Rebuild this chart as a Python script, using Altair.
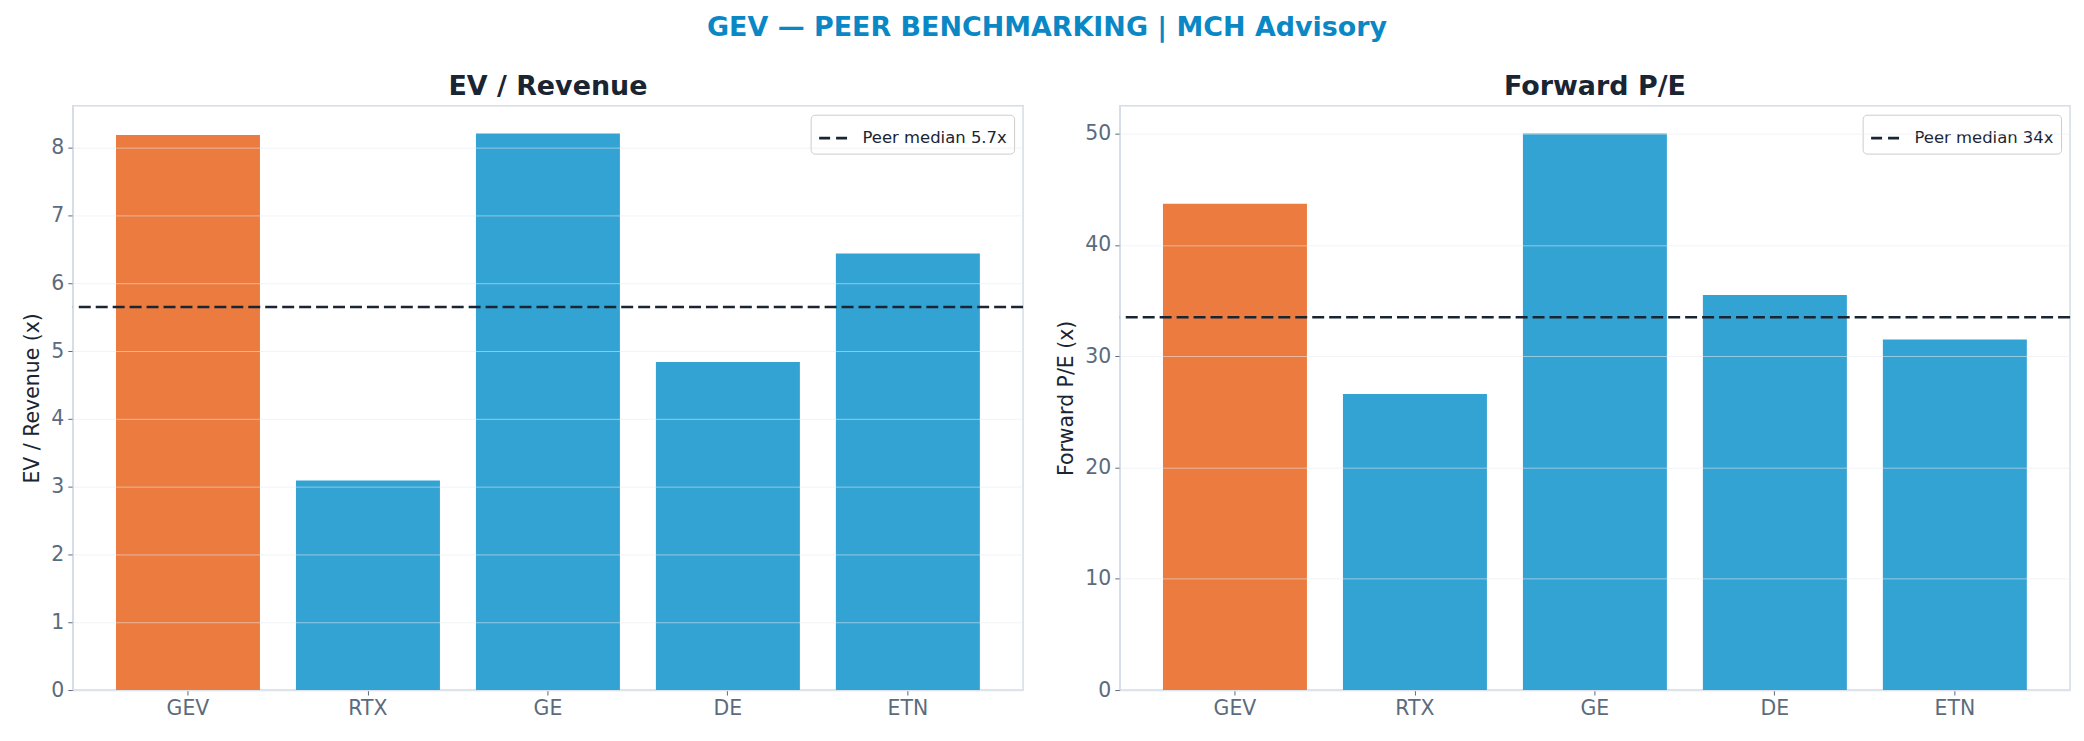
import altair as alt
import pandas as pd

tickers = ["GEV", "RTX", "GE", "DE", "ETN"]
bar_colors = ["#EC7B3F", "#33A3D4", "#33A3D4", "#33A3D4", "#33A3D4"]
ev_revenue = [8.19, 3.09, 8.21, 4.84, 6.44]
forward_pe = [43.7, 26.6, 50.0, 35.5, 31.5]
ev_median = [5.65]
pe_median = [33.5]
ev_label = ["Peer median 5.7x"]
pe_label = ["Peer median 34x"]
ev_ticks = [0, 1, 2, 3, 4, 5, 6, 7, 8]
pe_ticks = [0, 10, 20, 30, 40, 50]

FONT = "DejaVu Sans"
DARK = "#1a2533"
GRAYTXT = "#5b6b7d"


def panel(values, median, label, title, ytitle, domain, ticks):
    df = pd.DataFrame({"ticker": tickers, "value": values, "color": bar_colors})
    bars = alt.Chart(df).mark_bar().encode(
        x=alt.X(
            "ticker:N",
            sort=tickers,
            scale=alt.Scale(paddingInner=0.2, paddingOuter=0.24),
            axis=alt.Axis(title=None, labelAngle=0, grid=False),
        ),
        y=alt.Y(
            "value:Q",
            scale=alt.Scale(domain=domain, nice=False, zero=True),
            axis=alt.Axis(values=ticks, format="d", title=ytitle, grid=True, zindex=1),
        ),
        fill=alt.Fill("color:N", scale=None),
    )
    mdf = pd.DataFrame({"median": median, "label": label})
    rule = alt.Chart(mdf).mark_rule(strokeDash=[12, 5], strokeWidth=2.4).encode(
        y="median:Q",
        stroke=alt.Stroke(
            "label:N",
            scale=alt.Scale(range=[DARK]),
            legend=alt.Legend(
                title=None,
                orient="top-right",
                offset=9,
                symbolType="stroke",
                symbolDash=[11, 6],
                symbolStrokeWidth=2.6,
                symbolSize=900,
                labelFontSize=16.5,
                labelFont=FONT,
                labelColor=DARK,
                labelOffset=12,
                strokeColor="#cccccc",
                fillColor="white",
                cornerRadius=4,
                padding=7,
            ),
        ),
    )
    return alt.layer(bars, rule).properties(
        width=953,
        height=586,
        title=alt.TitleParams(
            title, fontSize=27, fontWeight="bold", color=DARK, font=FONT, offset=5
        ),
    )


left = panel(ev_revenue, ev_median, ev_label, "EV / Revenue", "EV / Revenue (x)", [0, 8.62], ev_ticks)
right = panel(forward_pe, pe_median, pe_label, "Forward P/E", "Forward P/E (x)", [0, 52.5], pe_ticks)

chart = (
    alt.hconcat(left, right, spacing=31)
    .resolve_scale(stroke="independent", y="independent", x="independent")
    .resolve_legend(stroke="independent")
    .properties(
        title=alt.TitleParams(
            "GEV — PEER BENCHMARKING | MCH Advisory",
            fontSize=27,
            fontWeight="bold",
            color="#0a88c6",
            font=FONT,
            anchor="middle",
            offset=30,
        ),
        padding={"left": 22, "top": 13, "right": 12, "bottom": 0},
        background="white",
    )
    .configure_view(stroke="#d5dde8", strokeWidth=1.5)
    .configure_axis(
        domainColor="#d5dde8",
        domainWidth=1.5,
        tickColor=GRAYTXT,
        tickSize=5,
        labelFont=FONT,
        labelFontSize=20.5,
        labelColor=GRAYTXT,
        labelPadding=4,
        titleFont=FONT,
        titleFontSize=20.5,
        titleFontWeight="normal",
        titleColor=DARK,
        titlePadding=8,
        gridColor="#e6e9ee",
        gridOpacity=0.55,
    )
)

chart.save("out.html", embed_options={"renderer": "svg", "actions": False})
